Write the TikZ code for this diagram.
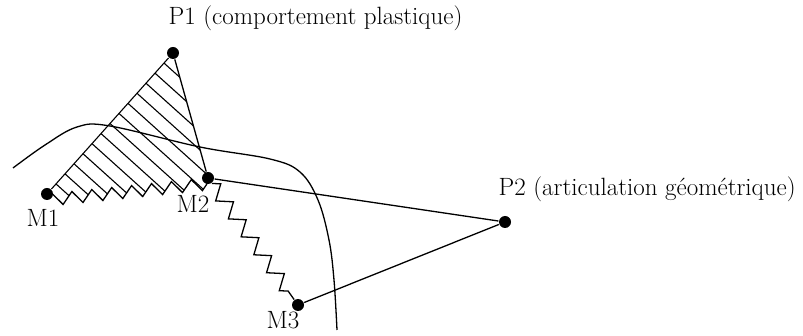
\documentclass[tikz,border=0pt]{standalone}
\usepackage{fontspec}
\usetikzlibrary{calc,decorations.pathmorphing}
\tikzset{
joint/.style={circle,fill,inner sep=0pt,minimum size=12pt},
tag/.style={anchor=base west,inner sep=0pt,font=\fontsize{25}{29}\selectfont},
spring/.style={decorate,decoration={zigzag,segment length=22pt,amplitude=7pt}},
teeth/.style={decoration={zigzag,segment length=20pt,amplitude=6pt,raise=-6pt}},
hatch/.style={line width=1.1pt},
edge/.style={line width=1.3pt}
}

\begin{document}
\begin{tikzpicture}[x=1pt,y=-1pt,line width=1.3pt]
\useasboundingbox (0,0) rectangle (803,336);
% points
\node[joint](P1) at (173,53){};
\node[joint](M1) at (47,194){};
\node[joint](M2) at (208,178){};
\node[joint](M3) at (298,305){};
\node[joint](P2) at (505,222){};
% labels
\node[tag](P1tag) at (168,25){P1 (comportement plastique)};
\node[tag](M1tag) at (26,227){M1};
\node[tag](M2tag) at (176,213){M2};
\node[tag](M3tag) at (266,329){M3};
\node[tag](P2tag) at (498,196){P2 (articulation géométrique)};
% hatched zone
\begin{scope}
\clip (M1.center) decorate[teeth]{-- (M2.center)} -- (P1.center) -- cycle;
\foreach \k in {1,...,13}
  \draw[hatch] ($(M1)!\k/14!(P1)+(-20,-18)$) -- ++(260,234);
\end{scope}
\draw[edge] (M1.center) decorate[teeth]{-- (M2.center)};
\draw[hatch] (M1) -- (P1);
\draw[edge] (P1) -- (M2);
% bars
\draw[edge] (M2) -- (P2) -- (M3);
\draw[edge,spring] (M2) -- (M3);
% curve
\draw[edge] plot[smooth,tension=0.6] coordinates {(13,168) (45,145) (77,127) (110,126) (200,147) (270,159) (300,172) (318,200) (329,240) (334,280) (337,330)};
\end{tikzpicture}
\end{document}
